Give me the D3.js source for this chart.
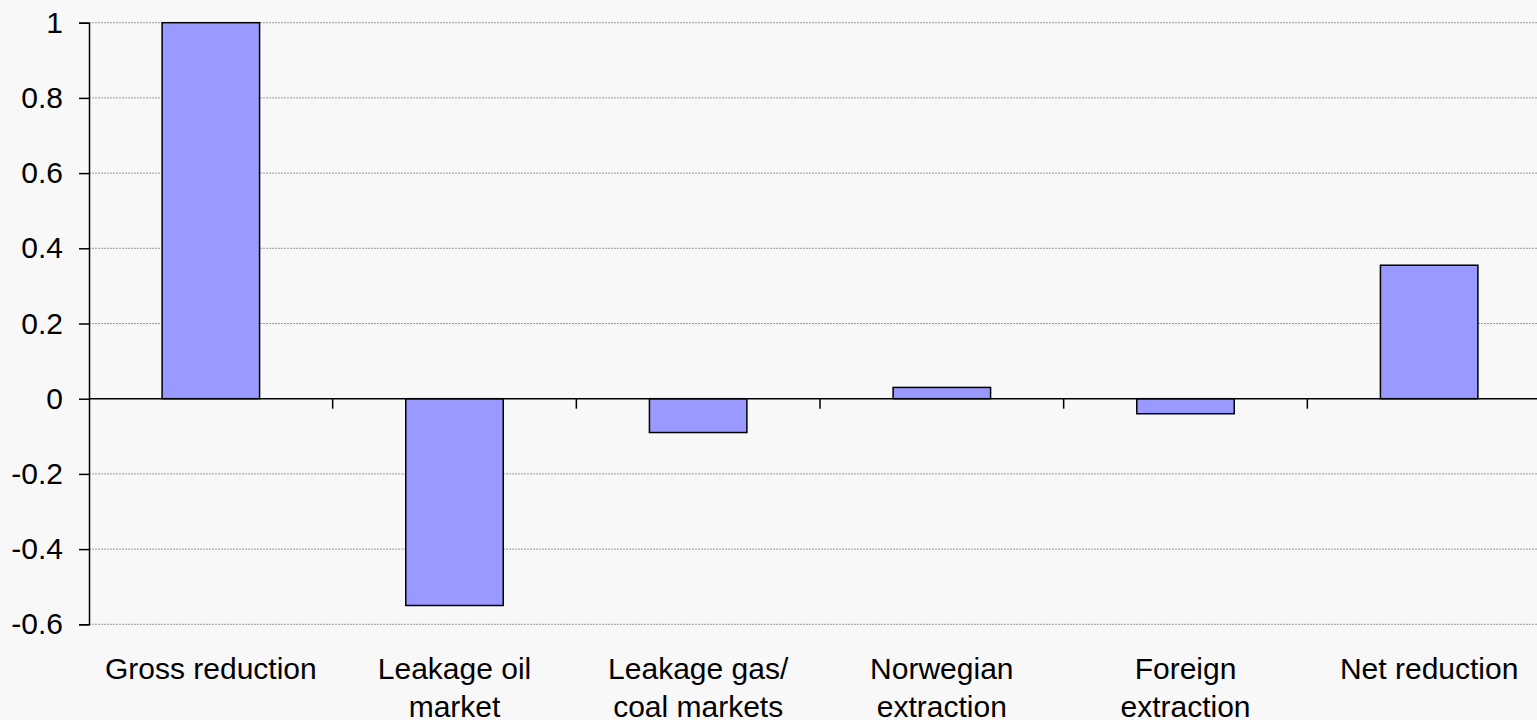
<!DOCTYPE html>
<html>
<head>
<meta charset="utf-8">
<script src="https://cdn.jsdelivr.net/npm/d3@7"></script>
<style>
  html, body { margin: 0; padding: 0; background: #f8f8f8; overflow: hidden; }
  svg { display: block; }
</style>
</head>
<body>
<svg></svg>
<script>
// Chart data
const categories = ["Gross reduction", "Leakage oil\nmarket", "Leakage gas/\ncoal markets",
  "Norwegian\nextraction", "Foreign\nextraction", "Net reduction"];
const values = [1.0, -0.55, -0.09, 0.03, -0.04, 0.355];
const yTicks = [-0.6, -0.4, -0.2, 0, 0.2, 0.4, 0.6, 0.8, 1];

const width = 1537;
const height = 720;
const plotLeft = 89, plotRight = 1551;
const plotTop = 22.7, plotBottom = 624.3;
const fontSize = 30;

const svg = d3.select('svg')
  .attr('width', width)
  .attr('height', height)
  .style('font-family', '"Liberation Sans", Arial, sans-serif');

const x = d3.scaleBand()
  .domain(categories)
  .range([plotLeft, plotRight])
  .paddingInner(0.6)
  .paddingOuter(0.3);

const y = d3.scaleLinear()
  .domain([-0.6, 1])
  .range([plotBottom, plotTop]);

// Gridlines
svg.append('g')
  .selectAll('line')
  .data(yTicks.filter(d => d !== 0))
  .enter()
  .append('line')
  .attr('x1', plotLeft)
  .attr('x2', width)
  .attr('y1', d => y(d))
  .attr('y2', d => y(d))
  .attr('stroke', '#9a9a9a')
  .attr('stroke-width', 1)
  .attr('stroke-dasharray', '2,1');

// Bars
svg.append('g')
  .selectAll('rect')
  .data(values)
  .enter()
  .append('rect')
  .attr('x', (d, i) => x(categories[i]))
  .attr('width', x.bandwidth())
  .attr('y', d => y(Math.max(0, d)))
  .attr('height', d => Math.abs(y(d) - y(0)))
  .attr('fill', '#9999ff')
  .attr('stroke', '#000')
  .attr('stroke-width', 1.5);

// Y axis
const yAxis = svg.append('g')
  .attr('transform', `translate(${plotLeft},0)`)
  .call(d3.axisLeft(y).tickValues(yTicks).tickSize(10).tickPadding(16)
    .tickFormat(d => String(+d.toFixed(1))));
yAxis.select('.domain').attr('stroke', '#000').attr('stroke-width', 1.5);
yAxis.selectAll('.tick line').attr('stroke', '#000').attr('stroke-width', 1.5);
yAxis.selectAll('.tick text')
  .attr('font-size', fontSize)
  .attr('fill', '#000')
  .style('font-family', '"Liberation Sans", Arial, sans-serif');

// X axis at zero, ticks between categories
svg.append('line')
  .attr('x1', plotLeft)
  .attr('x2', width)
  .attr('y1', y(0))
  .attr('y2', y(0))
  .attr('stroke', '#000')
  .attr('stroke-width', 1.5);

svg.append('g')
  .selectAll('line')
  .data(categories.slice(1))
  .enter()
  .append('line')
  .attr('x1', d => x(d) - x.bandwidth() * 0.75)
  .attr('x2', d => x(d) - x.bandwidth() * 0.75)
  .attr('y1', y(0))
  .attr('y2', y(0) + 10)
  .attr('stroke', '#000')
  .attr('stroke-width', 1.5);

// Category labels
const labels = svg.append('g')
  .selectAll('text')
  .data(categories)
  .enter()
  .append('text')
  .attr('x', d => x(d) + x.bandwidth() / 2)
  .attr('y', 679)
  .attr('text-anchor', 'middle')
  .attr('font-size', fontSize)
  .attr('fill', '#000');

labels.selectAll('tspan')
  .data(d => d.split('\n'))
  .enter()
  .append('tspan')
  .attr('x', function () { return d3.select(this.parentNode).attr('x'); })
  .attr('dy', (d, i) => i === 0 ? 0 : 38)
  .text(d => d);
</script>
</body>
</html>
